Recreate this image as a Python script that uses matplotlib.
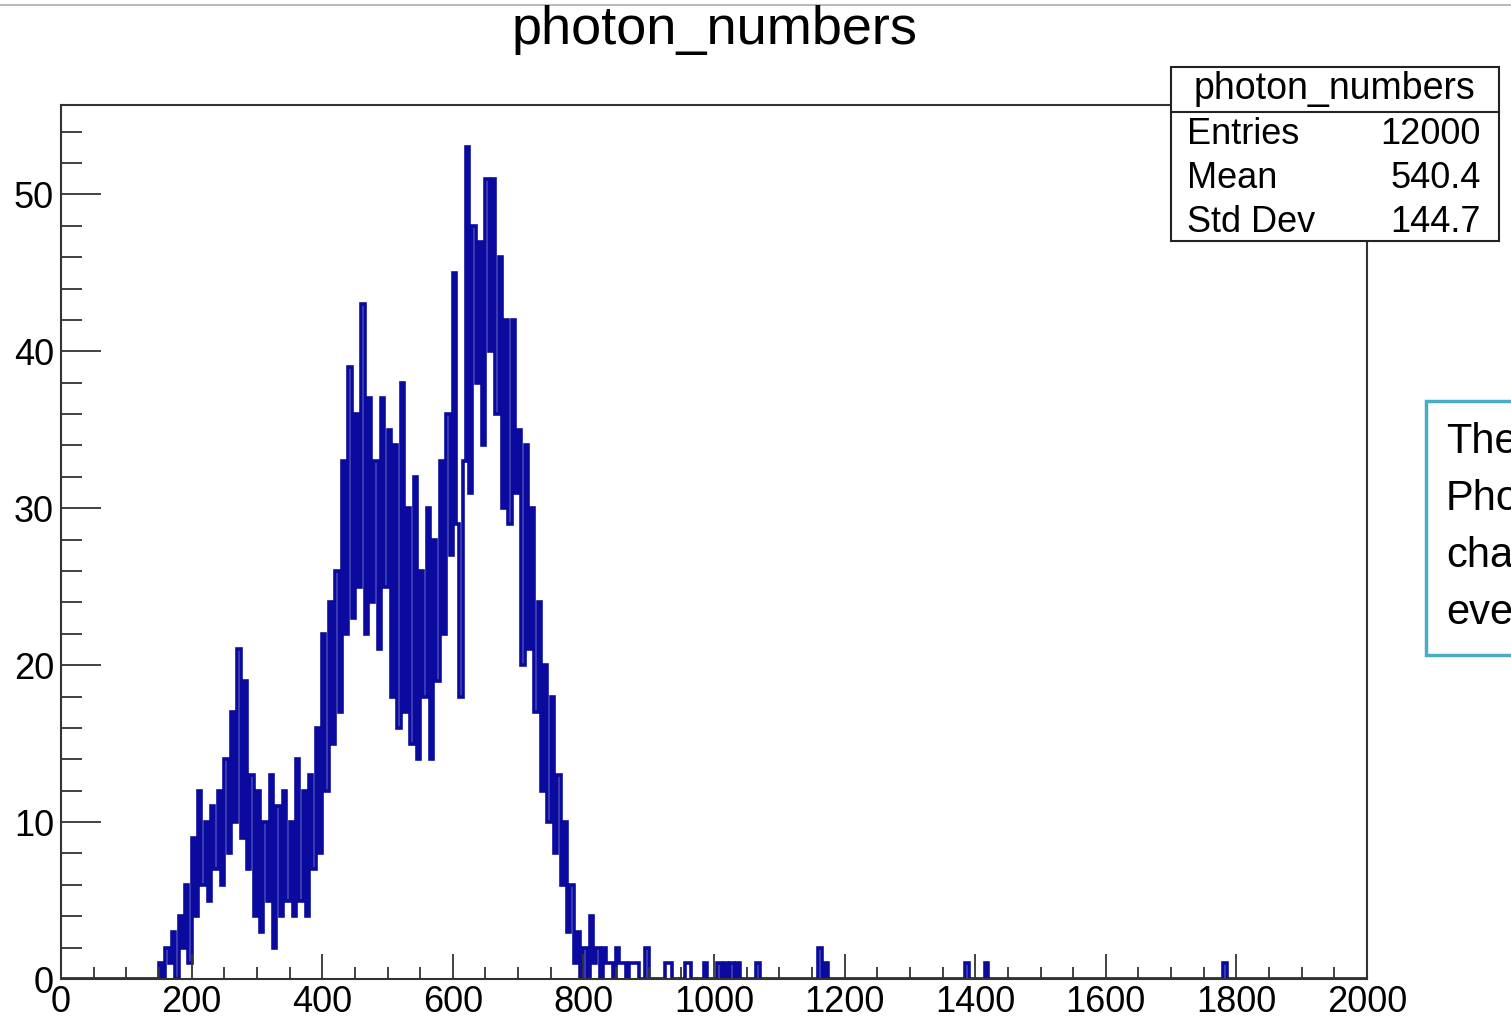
import numpy as np
import matplotlib.pyplot as plt
from matplotlib.patches import Rectangle
from matplotlib.ticker import MultipleLocator

plt.rcParams['font.family'] = ['Liberation Sans', 'DejaVu Sans']

# histogram, 5-unit bins, main body starts at 150
bin_width = 5
main_start = 150
main_counts = [
    1, 0, 2, 1, 3, 0, 4, 2, 6, 1,
    9, 4, 12, 6, 10, 5, 11, 7, 12, 6,
    14, 8, 17, 10, 21, 9, 19, 7, 13, 4,
    12, 3, 10, 5, 13, 2, 11, 4, 12, 5,
    10, 4, 14, 5, 12, 4, 13, 7, 16, 8,
    22, 12, 24, 15, 26, 17, 33, 22, 39, 23,
    36, 25, 43, 22, 37, 24, 33, 21, 37, 25,
    35, 18, 34, 16, 38, 17, 30, 15, 32, 14,
    26, 18, 30, 14, 28, 19, 33, 22, 36, 27,
    45, 29, 18, 33, 53, 31, 48, 38, 47, 34,
    51, 40, 51, 36, 46, 30, 42, 29, 42, 31,
    35, 20, 34, 21, 30, 17, 24, 12, 20, 10,
    18, 8, 13, 6, 10, 3, 6, 1, 3, 0,
    2, 0, 4, 1, 2, 0, 2, 1, 1, 0,
    2, 1, 1, 0,
]
# isolated entries in the tail: (bin start, count)
tail_x = [870, 875, 880, 895, 925, 930, 955, 960, 985, 1005, 1015, 1025, 1035, 1065, 1160, 1170, 1385, 1415, 1780]
tail_n = [1, 1, 1, 2, 1, 1, 1, 1, 1, 1, 1, 1, 1, 1, 2, 1, 1, 1, 1]

stats_rows = [("Entries", "12000"), ("Mean", "540.4"), ("Std Dev", "144.7")]
note_lines = ["The", "Pho", "cha", "eve"]

edges = np.arange(0, 2000 + bin_width, bin_width)
counts = np.zeros(len(edges) - 1)
i0 = main_start // bin_width
counts[i0:i0 + len(main_counts)] = main_counts
for x, n in zip(tail_x, tail_n):
    counts[x // bin_width] = n

fig = plt.figure(figsize=(15.11, 10.22), dpi=100)
ax = fig.add_axes([61 / 1511, 1 - 979 / 1022, (1367 - 61) / 1511, (979 - 105) / 1022])

ax.stairs(counts, edges, color='#0a0a9e', lw=2.6)

ax.set_xlim(0, 2000)
ax.set_ylim(0, 55.7)
ax.xaxis.set_major_locator(MultipleLocator(200))
ax.xaxis.set_minor_locator(MultipleLocator(50))
ax.yaxis.set_major_locator(MultipleLocator(10))
ax.yaxis.set_minor_locator(MultipleLocator(2))
ax.tick_params(which='both', direction='in', top=False, right=False, labelsize=26, width=1.3, color='#333333')
ax.tick_params(axis='y', which='major', length=29, pad=5)
ax.tick_params(axis='y', which='minor', length=15)
ax.tick_params(axis='x', which='major', length=18, pad=4)
ax.tick_params(axis='x', which='minor', length=9)
for s in ax.spines.values():
    s.set_linewidth(1.5)
    s.set_color('#333333')

fig.text(715 / 1511, 1 - 30 / 1022, "photon_numbers", ha='center', va='center', fontsize=39)

# stats box
fig.patches.append(Rectangle((1171 / 1511, 1 - 241 / 1022), 328 / 1511, 174 / 1022,
                             transform=fig.transFigure, fc='white', ec='#222222', lw=1.5))
fig.add_artist(plt.Line2D([1171 / 1511, 1499 / 1511], [1 - 112 / 1022] * 2, color='#222222', lw=1.5))
fig.text(1334 / 1511, 1 - 89 / 1022, "photon_numbers", ha='center', va='center', fontsize=27)
for k, (name, val) in enumerate(stats_rows):
    yy = 1 - (135 + 44 * k) / 1022
    fig.text(1187 / 1511, yy, name, ha='left', va='center', fontsize=26)
    fig.text(1481 / 1511, yy, val, ha='right', va='center', fontsize=26)

# partially visible note box on the right
fig.patches.append(Rectangle((1426 / 1511, 1 - 655 / 1022), 120 / 1511, 254 / 1022,
                             transform=fig.transFigure, fc='white', ec='#4bacc6', lw=2.5))
for k, line in enumerate(note_lines):
    fig.text(1446 / 1511, 1 - (442 + 57 * k) / 1022, line, ha='left', va='center', fontsize=30)

# screenshot border at top
fig.add_artist(plt.Line2D([0, 1], [1 - 5 / 1022] * 2, color='#bbbbbb', lw=1.5))

fig.savefig("out.png", dpi=100)
